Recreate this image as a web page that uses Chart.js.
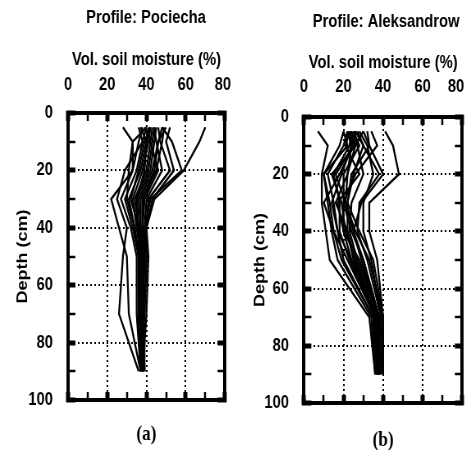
<!DOCTYPE html>
<html>
<head>
<meta charset="utf-8">
<script src="https://cdn.jsdelivr.net/npm/chart.js@4.4.1/dist/chart.umd.min.js"></script>
<style>
  html, body { margin: 0; padding: 0; background: #fff; overflow: hidden; }
  #wrap { position: relative; width: 468px; height: 450px; overflow: hidden; }
  /* the original figure is squeezed horizontally, so are we */
  canvas { position: absolute; top: 0; transform-origin: 0 0; transform: scaleX(0.82); }
  #chartA { left: 0; }
  #chartB { left: 234px; }
</style>
</head>
<body>
<div id="wrap">
  <canvas id="chartA"></canvas>
  <canvas id="chartB"></canvas>
</div>
<script>
// depths of the probe readings (cm)
const depths = [5, 10, 20, 30, 40, 50, 70, 90];
const xTicks = [0, 20, 40, 60, 80];
const yTicks = [0, 20, 40, 60, 80, 100];

// vol. soil moisture (%) at each depth, one row per measuring date
const pociecha = [
    [28, 33, 33, 22, 26, 30, 31, 37],
    [36, 38, 29, 25, 30, 28, 26, 36],
    [38, 36, 33, 27, 32, 35, 35, 37],
    [40, 38, 35, 29, 33, 36, 36, 37],
    [41, 40, 37, 31, 34, 36, 36, 37],
    [42, 41, 38, 33, 35, 37, 37, 38],
    [43, 42, 40, 34, 36, 37, 37, 38],
    [44, 43, 41, 35, 36, 37, 37, 38],
    [45, 44, 42, 36, 37, 38, 37, 38],
    [48, 46, 43, 37, 37, 38, 38, 38],
    [50, 46, 44, 38, 38, 38, 38, 39],
    [49, 48, 45, 38, 38, 39, 38, 39],
    [48, 53, 58, 42, 39, 40, 39, 38],
    [70, 67, 59, 44, 40, 41, 40, 38],
    [40, 33, 31, 30, 34, 36, 36, 37],
    [37, 40, 39, 35, 36, 36, 37, 37],
    [46, 47, 52, 41, 40, 40, 39, 39],
    [42, 39, 36, 32, 36, 38, 38, 38],
    [39, 42, 46, 39, 38, 38, 38, 37],
    [44, 45, 48, 40, 39, 39, 38, 38],
    [52, 50, 54, 43, 40, 39, 38, 38]
];

const aleksandrow = [
    [7, 12, 9, 9, 11, 13, 33, 36],
    [20, 22, 10, 12, 14, 17, 34, 36],
    [22, 20, 12, 15, 17, 20, 35, 37],
    [23, 25, 18, 10, 15, 22, 36, 37],
    [24, 23, 15, 18, 18, 23, 36, 37],
    [25, 28, 20, 20, 20, 24, 37, 38],
    [26, 24, 22, 16, 22, 25, 37, 38],
    [27, 30, 25, 22, 22, 26, 37, 38],
    [25, 27, 30, 24, 23, 27, 38, 38],
    [23, 21, 28, 17, 20, 28, 38, 38],
    [30, 33, 40, 29, 25, 29, 38, 38],
    [34, 37, 26, 20, 24, 30, 38, 37],
    [26, 30, 38, 28, 27, 32, 39, 38],
    [41, 45, 48, 33, 33, 37, 40, 39],
    [24, 26, 14, 19, 21, 26, 37, 38],
    [28, 32, 35, 30, 30, 34, 39, 38],
    [22, 24, 19, 14, 17, 24, 36, 37],
    [30, 26, 22, 21, 26, 33, 40, 39],
    [20, 18, 10, 13, 15, 19, 35, 36],
    [32, 33, 24, 22, 28, 35, 40, 40],
    [26, 25, 16, 21, 25, 30, 38, 38]
];

const SQUEEZE = 0.82;   // same as the css scaleX
const SANS = "'Liberation Sans', Arial, sans-serif";
const SERIF = "'Liberation Serif', 'Times New Roman', serif";

function isMajor(ctx) {
    return ctx.tick && ctx.tick.value % 20 === 0;
}

// one side of the black frame, with inward ticks every 10
function frameAxis(position, max, size) {
    const horiz = position === 'top' || position === 'bottom';
    return {
        type: 'linear',
        axis: horiz ? 'x' : 'y',
        position: position,
        min: 0,
        max: max,
        reverse: !horiz,
        border: { display: true, color: '#000', width: 4, dash: [2, 3] },
        grid: {
            drawOnChartArea: false,
            drawTicks: true,
            tickLength: horiz ? -8 : -9,
            tickColor: '#000',
            tickWidth: ctx => isMajor(ctx) ? 5 : 2.5,
            color: '#000',
            lineWidth: 2
        },
        ticks: { display: false, stepSize: 10, autoSkip: false },
        afterFit: s => { if (horiz) s.height = size; else s.width = size; }
    };
}

// L holds screen pixels; horizontal ones get unsqueezed here
function makeChart(id, title, caption, profiles, L) {
    const canvas = document.getElementById(id);
    const yLeft = L.yLeft / SQUEEZE;
    const yRight = L.yRight / SQUEEZE;
    canvas.width = Math.round(yLeft + L.plotW / SQUEEZE + yRight);
    canvas.height = 460;

    const datasets = profiles.map(row => ({
        data: row.map((v, i) => ({ x: v, y: depths[i] })),
        showLine: true,
        borderColor: '#000',
        borderWidth: 2.3,
        pointRadius: 0,
        fill: false
    }));

    const tickFont = { family: SANS, size: 18, weight: 'bold' };

    const x = frameAxis('top', 80, L.xTop);
    x.grid.drawOnChartArea = true;
    x.grid.color = ctx => (isMajor(ctx) && ctx.tick.value > 0 && ctx.tick.value < 80) ? '#000' : 'rgba(0,0,0,0)';
    x.ticks = {
        display: true, stepSize: 10, autoSkip: false, maxRotation: 0,
        padding: L.xPad, color: '#000', font: tickFont,
        // the last label is pulled in a little so it stays inside the figure
        callback: v => xTicks.includes(v) ? (v === 80 ? '80' + L.lastPad : String(v)) : ''
    };
    x.title = {
        display: true, text: 'Vol. soil moisture (%)', color: '#000',
        font: { family: SANS, size: 18, weight: 'bold' },
        padding: { top: L.xTitleTop, bottom: 0 }
    };

    const y = frameAxis('left', 100, yLeft);
    y.grid.drawOnChartArea = true;
    y.grid.color = ctx => (isMajor(ctx) && ctx.tick.value > 0 && ctx.tick.value < 100) ? '#000' : 'rgba(0,0,0,0)';
    y.ticks = {
        display: true, stepSize: 10, autoSkip: false,
        padding: L.yLabelGap / SQUEEZE + 9, color: '#000', font: tickFont,
        callback: v => yTicks.includes(v) ? String(v) : ''
    };
    y.title = {
        display: true, text: 'Depth (cm)', color: '#000',
        font: { family: SANS, size: 18, weight: 'bold' },
        padding: { top: L.yTitleX / SQUEEZE - 10.8, bottom: 0 }
    };

    const x2 = frameAxis('bottom', 80, L.xBottom);
    x2.title = {
        display: true, text: caption, color: '#000',
        font: { family: SERIF, size: 21, weight: 'bold' },
        padding: { top: 0, bottom: L.capBottom }
    };
    const y2 = frameAxis('right', 100, yRight);

    return new Chart(canvas, {
        type: 'scatter',
        data: { datasets: datasets },
        options: {
            responsive: false,
            animation: false,
            events: [],
            layout: { padding: 0 },
            plugins: {
                legend: { display: false },
                tooltip: { enabled: false },
                title: {
                    display: true, text: title, color: '#000',
                    font: { family: SANS, size: 18, weight: 'bold' },
                    padding: { top: L.titleTop, bottom: L.titleBottom }
                }
            },
            scales: { x: x, y: y, x2: x2, y2: y2 }
        }
    });
}

makeChart('chartA', 'Profile: Pociecha', '(a)', pociecha, {
    titleTop: 7, titleBottom: 11.4, xTop: 73, xTitleTop: 9.2, xPad: 25,
    yLeft: 68, plotW: 157, yRight: 67, yLabelGap: 15, yTitleX: 23,
    xBottom: 60, capBottom: 12.4, lastPad: '\u00a0'
});

makeChart('chartB', 'Profile: Aleksandrow', '(b)', aleksandrow, {
    titleTop: 11.2, titleBottom: 11.2, xTop: 73, xTitleTop: 8.2, xPad: 27,
    yLeft: 70, plotW: 158, yRight: 76, yLabelGap: 15, yTitleX: 26,
    xBottom: 57, capBottom: 6.4, lastPad: '\u00a0\u00a0\u00a0'
});
</script>
</body>
</html>
